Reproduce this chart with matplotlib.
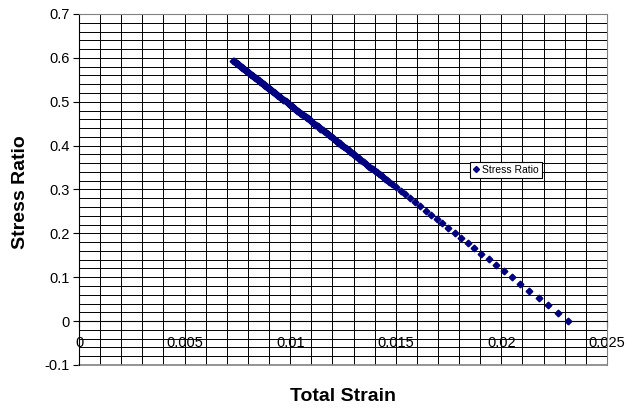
import matplotlib
matplotlib.use('Agg')
import matplotlib.pyplot as plt
import numpy as np

plt.rcParams['font.family'] = ['Liberation Sans', 'DejaVu Sans']

# total strain vs stress ratio
total_strain = [0.02317, 0.02266, 0.02221, 0.02176, 0.02132, 0.0209, 0.0205, 0.02012,
                0.01976, 0.0194, 0.01905, 0.0187, 0.0184, 0.01809, 0.01779, 0.01749,
                0.0172, 0.01694, 0.01667, 0.01642, 0.01616, 0.01592, 0.01569, 0.01545,
                0.01523, 0.01501, 0.0148,
                0.0147, 0.0146, 0.0145, 0.0144, 0.0143, 0.0142, 0.01411, 0.01402,
                0.01393, 0.01384, 0.01375, 0.01366, 0.01357, 0.01348, 0.0134, 0.01332,
                0.01324, 0.01316, 0.01308, 0.013, 0.01292, 0.01284, 0.01277, 0.0127,
                0.01263, 0.01256, 0.01249, 0.01242, 0.01235, 0.01228, 0.01221, 0.01214,
                0.01208, 0.01202, 0.01196, 0.0119, 0.01184, 0.01178, 0.01172, 0.01166,
                0.0116, 0.01154, 0.01148, 0.01142, 0.01136, 0.0113, 0.01124, 0.01118,
                0.01113, 0.01108, 0.01103, 0.01098, 0.01093, 0.01088, 0.01083, 0.01078,
                0.01073, 0.01068, 0.01063, 0.01058, 0.01053, 0.01048, 0.01043, 0.01038,
                0.01033, 0.01028, 0.01023, 0.01018, 0.01013, 0.01008, 0.01003, 0.00998,
                0.00993, 0.00988, 0.00983, 0.00978, 0.00973, 0.00968, 0.00963, 0.00958,
                0.00954, 0.0095, 0.00946, 0.00942, 0.00938, 0.00934, 0.0093, 0.00926,
                0.00922, 0.00918, 0.00914, 0.0091, 0.00906, 0.00902, 0.00898, 0.00894,
                0.0089, 0.00886, 0.00882, 0.00878, 0.00874, 0.0087, 0.00866, 0.00862,
                0.00858, 0.00854, 0.0085, 0.00846, 0.00842, 0.00838, 0.00834, 0.0083,
                0.00826, 0.00822, 0.00818, 0.00814, 0.0081, 0.00806, 0.00802, 0.00798,
                0.00794, 0.0079, 0.00786, 0.00782, 0.00778, 0.00774, 0.0077, 0.00766,
                0.00762, 0.00758, 0.00754, 0.0075, 0.00746, 0.00742, 0.00738, 0.00734,
                0.0073]
stress_ratio = [0.000, 0.019, 0.036, 0.053, 0.069, 0.085, 0.100, 0.114,
                0.128, 0.141, 0.154, 0.167, 0.178, 0.190, 0.201, 0.212,
                0.223, 0.233, 0.243, 0.252, 0.262, 0.271, 0.280, 0.289,
                0.297, 0.305, 0.313,
                0.317, 0.321, 0.324, 0.328, 0.332, 0.335, 0.339, 0.342,
                0.346, 0.349, 0.352, 0.356, 0.359, 0.362, 0.365, 0.368,
                0.371, 0.374, 0.377, 0.380, 0.383, 0.386, 0.389, 0.392,
                0.394, 0.397, 0.399, 0.402, 0.405, 0.407, 0.410, 0.413,
                0.415, 0.417, 0.419, 0.422, 0.424, 0.426, 0.428, 0.430,
                0.433, 0.435, 0.437, 0.439, 0.442, 0.444, 0.446, 0.448,
                0.450, 0.452, 0.454, 0.456, 0.458, 0.460, 0.462, 0.463,
                0.465, 0.467, 0.469, 0.471, 0.473, 0.475, 0.476, 0.478,
                0.480, 0.482, 0.484, 0.486, 0.488, 0.490, 0.491, 0.493,
                0.495, 0.497, 0.499, 0.501, 0.503, 0.505, 0.506, 0.508,
                0.510, 0.511, 0.513, 0.514, 0.516, 0.517, 0.519, 0.520,
                0.522, 0.523, 0.525, 0.526, 0.528, 0.529, 0.531, 0.532,
                0.534, 0.535, 0.537, 0.538, 0.540, 0.541, 0.543, 0.544,
                0.546, 0.547, 0.549, 0.550, 0.552, 0.553, 0.555, 0.556,
                0.558, 0.559, 0.561, 0.562, 0.564, 0.565, 0.567, 0.568,
                0.570, 0.571, 0.573, 0.574, 0.576, 0.577, 0.579, 0.580,
                0.582, 0.583, 0.585, 0.586, 0.588, 0.589, 0.590, 0.592,
                0.594]

x_ticks = [0, 0.005, 0.01, 0.015, 0.02, 0.025]
x_tick_labels = ['0', '0.005', '0.01', '0.015', '0.02', '0.025']
y_ticks = [-0.1, 0, 0.1, 0.2, 0.3, 0.4, 0.5, 0.6, 0.7]
y_tick_labels = ['-0.1', '0', '0.1', '0.2', '0.3', '0.4', '0.5', '0.6', '0.7']

fig = plt.figure(figsize=(6.26, 4.08), dpi=100)
ax = fig.add_axes([0.1262, 0.1054, 0.8434, 0.8603])

ax.set_xlim(0, 0.025)
ax.set_ylim(-0.1, 0.7)

# gridlines every 0.001 / 0.02
ax.set_xticks(np.arange(0, 0.02501, 0.001), minor=True)
ax.set_yticks(np.arange(-0.1, 0.7001, 0.02), minor=True)
ax.grid(True, which='both', color='black', linewidth=0.7)
ax.tick_params(which='minor', length=0)
ax.set_axisbelow(True)

ax.plot(total_strain, stress_ratio, linestyle='none', marker='D', markersize=3.4,
        color='#000080', label='Stress Ratio', zorder=3)

ax.set_xticks(x_ticks)
ax.set_xticklabels(x_tick_labels)
ax.set_yticks(y_ticks)
ax.set_yticklabels(y_tick_labels)

for side in ['top', 'right']:
    ax.spines[side].set_color('#808080')
ax.spines['left'].set_color('black')
ax.spines['bottom'].set_position(('data', 0))
ax.spines['bottom'].set_color('black')
ax.axhline(-0.1, color='#808080', linewidth=1.2, clip_on=False)

ax.tick_params(axis='x', which='major', direction='out', length=4, pad=7,
               labelsize=10.5, color='black')
ax.tick_params(axis='y', which='major', direction='out', length=4, pad=3,
               labelsize=10.5, color='black')

fig.text(0.548, 0.029, 'Total Strain', ha='center', va='center',
         fontsize=14, fontweight='bold')
fig.text(0.033, 0.529, 'Stress Ratio', ha='center', va='center',
         fontsize=14, fontweight='bold', rotation=90)

leg = ax.legend(loc='upper left', bbox_to_anchor=(0.7405, 0.579), fontsize=7.5,
                frameon=True, fancybox=False, handlelength=0.6, handletextpad=0.3,
                borderpad=0.3, borderaxespad=0, markerscale=0.9)
leg.get_frame().set_edgecolor('black')
leg.get_frame().set_linewidth(0.8)
leg.get_frame().set_alpha(1)

fig.savefig('out.png', dpi=100)
